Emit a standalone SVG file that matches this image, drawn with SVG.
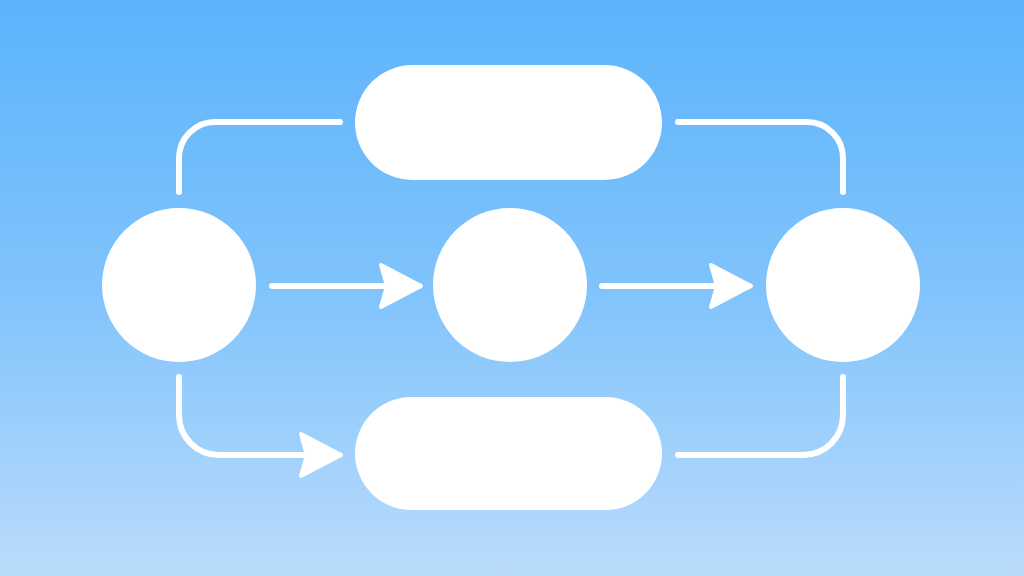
<svg xmlns="http://www.w3.org/2000/svg" width="1024" height="576" viewBox="0 0 1024 576">
<defs>
<linearGradient id="bg" x1="0" y1="0" x2="0" y2="1">
<stop offset="0" stop-color="#5cb4fb"/>
<stop offset="0.5" stop-color="#80c3fc"/>
<stop offset="1" stop-color="#badcfb"/>
</linearGradient>
<marker id="ah" viewBox="0 0 48 48" refX="43" refY="24" markerWidth="48" markerHeight="48" markerUnits="userSpaceOnUse" orient="auto">
<path d="M5,3 L45,24 L5,45 L11,24 Z" fill="#fff" stroke="#fff" stroke-width="4" stroke-linejoin="round"/>
</marker>
<style>
.node{fill:#fff}
.edge{fill:none;stroke:#fff;stroke-width:6;stroke-linecap:round;stroke-linejoin:round}
</style>
</defs>
<rect width="1024" height="576" fill="url(#bg)"/>
<g id="connectors">
<path class="edge" d="M272,286 L419,286" marker-end="url(#ah)"/>
<path class="edge" d="M602,286 L749,286" marker-end="url(#ah)"/>
<path class="edge" d="M179,192 L179,158 A36,36 0 0 1 215,122 L340,122"/>
<path class="edge" d="M678,122 L807,122 A36,36 0 0 1 843,158 L843,192"/>
<path class="edge" d="M179,377 L179,415 A40,40 0 0 0 219,455 L339,455" marker-end="url(#ah)"/>
<path class="edge" d="M678,455 L803,455 A40,40 0 0 0 843,415 L843,377"/>
</g>
<g id="node-left"><circle class="node" cx="179" cy="285" r="77"/></g>
<g id="node-middle"><circle class="node" cx="510" cy="285" r="77"/></g>
<g id="node-right"><circle class="node" cx="843" cy="285" r="77"/></g>
<g id="node-top"><rect class="node" x="355" y="65" width="307" height="115" rx="57.5"/></g>
<g id="node-bottom"><rect class="node" x="355" y="397" width="307" height="113" rx="56.5"/></g>
</svg>
